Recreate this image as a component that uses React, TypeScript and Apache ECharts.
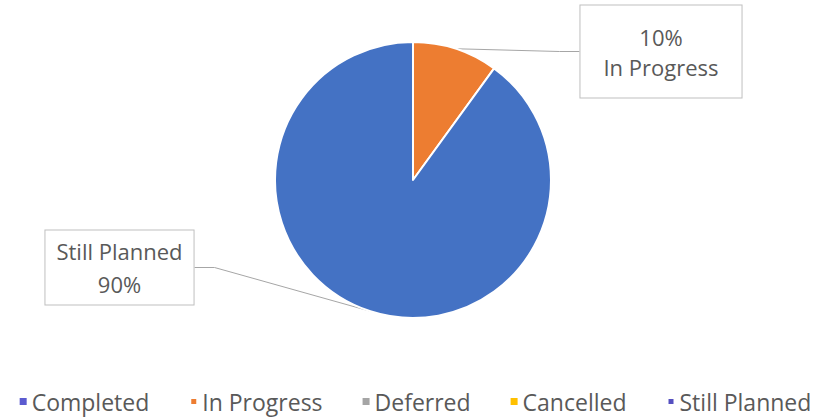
import React, { useEffect, useRef } from "react";
import * as echarts from "echarts";

const categories = ["Completed", "In Progress", "Deferred", "Cancelled", "Still Planned"];
const values = [0, 10, 0, 0, 90];
const colors = ["#5B5BD0", "#ED7D31", "#A5A5A5", "#FFC000", "#4472C4"];
const legendColors = ["#5B5BD0", "#ED7D31", "#A5A5A5", "#FFC000", "#5550C0"];

export default function App() {
  const ref = useRef<HTMLDivElement>(null);
  useEffect(() => {
    document.body.style.margin = "0";
    const chart = echarts.init(ref.current!, null, { renderer: "svg" });
    const font = "'Open Sans', 'Noto Sans', sans-serif";
    const labelPos: Record<number, [number, number]> = { 1: [661, 51.5], 4: [119.5, 267.5] };
    chart.setOption({
      animation: false,
      backgroundColor: "#ffffff",
      color: colors,
      legend: {
        bottom: 1,
        left: "center",
        icon: "rect",
        itemWidth: 7,
        itemHeight: 7,
        itemGap: 40,
        textStyle: { color: "#595959", fontSize: 23, fontFamily: font },
        data: categories.map((c, i) => ({ name: c, itemStyle: { color: legendColors[i] } })),
      },
      series: [
        {
          type: "pie",
          center: [413, 180],
          radius: [0, 138],
          startAngle: 90,
          clockwise: true,
          avoidLabelOverlap: false,
          itemStyle: { borderColor: "#ffffff", borderWidth: 2 },
          label: {
            show: true,
            color: "#595959",
            fontSize: 22,
            fontFamily: font,
            backgroundColor: "#ffffff",
            borderColor: "#BFBFBF",
            borderWidth: 1,
            align: "center",
          },
          labelLine: { show: true, lineStyle: { color: "#A6A6A6", width: 1 }, length: 20, length2: 20 },
          labelLayout: (p: any) => {
            const pos = labelPos[p.dataIndex];
            if (!pos) return {};
            return { x: pos[0], y: pos[1], align: "center", verticalAlign: "middle" };
          },
          data: categories.map((c, i) => {
            const v = values[i];
            if (v === 0) {
              return { name: c, value: v, label: { show: false }, labelLine: { show: false }, itemStyle: { borderWidth: 0 } };
            }
            if (c === "In Progress") {
              return {
                name: c,
                value: v,
                label: { formatter: "{d}%\n{b}", padding: [16, 23], lineHeight: 30 },
              };
            }
            return {
              name: c,
              value: v,
              label: { formatter: "{b}\n{d}%", padding: [4, 11], lineHeight: 33 },
            };
          }),
        },
      ],
    });
    return () => chart.dispose();
  }, []);
  return <div ref={ref} style={{ width: 831, height: 419 }} />;
}
